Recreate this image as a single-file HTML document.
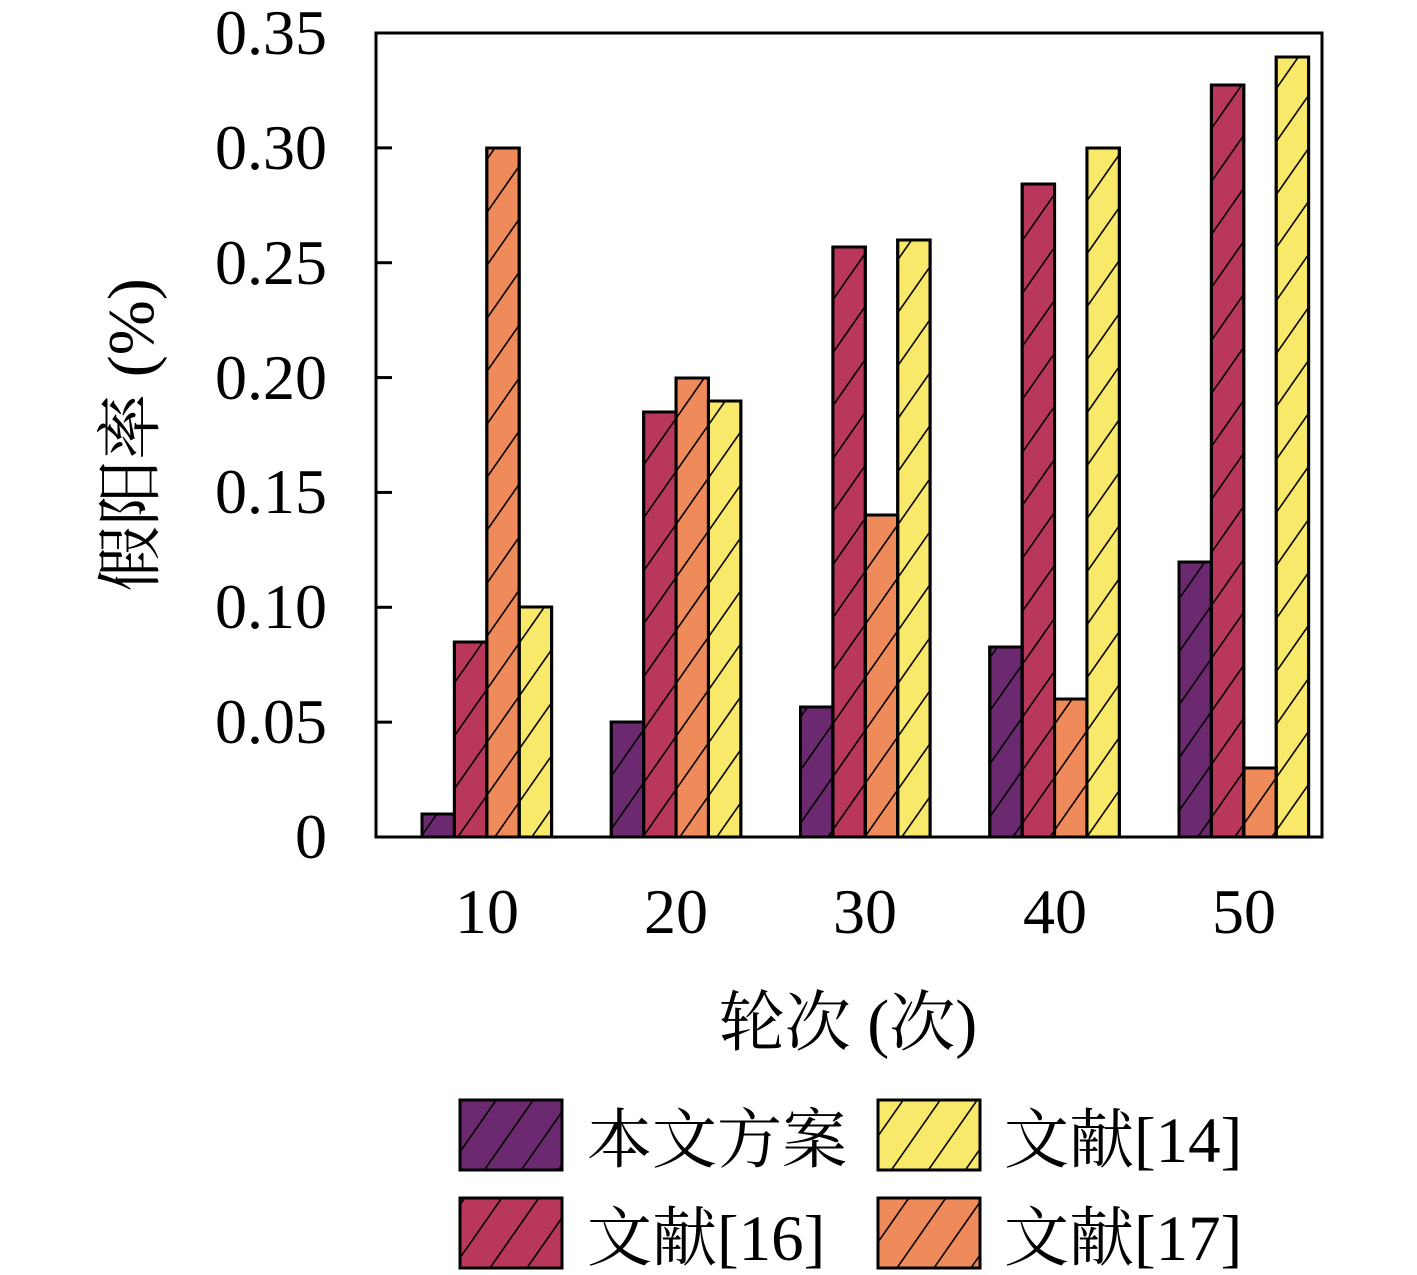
<!DOCTYPE html>
<html><head><meta charset="utf-8"><style>
html,body{margin:0;padding:0;background:#fff;}
svg{display:block;}
text{font-family:"Liberation Serif","Noto Serif CJK SC",serif;fill:#000;}
</style></head><body>
<svg width="1417" height="1275" viewBox="0 0 1417 1275" xmlns="http://www.w3.org/2000/svg">
<defs>
<pattern id="h" patternUnits="userSpaceOnUse" x="0" y="8.8" width="37" height="53">
<path d="M-3.7,58.3 L40.7,-5.3 M-3.7,5.3 L3.7,-5.3 M33.3,58.3 L40.7,47.7" stroke="#000" stroke-width="1.6" fill="none"/>
</pattern>
</defs>
<rect width="1417" height="1275" fill="#fff"/>

<g stroke="#000" stroke-width="3">
<!-- group 10 -->
<rect x="422" y="814" width="32.4" height="23" fill="#6b2a6f"/>
<rect x="454.4" y="642" width="32.4" height="195" fill="#b8375a"/>
<rect x="486.8" y="148" width="32.4" height="689" fill="#ef8a5a"/>
<rect x="519.2" y="607" width="32.4" height="230" fill="#f8e96b"/>
<!-- group 20 -->
<rect x="611.25" y="722" width="32.4" height="115" fill="#6b2a6f"/>
<rect x="643.65" y="412" width="32.4" height="425" fill="#b8375a"/>
<rect x="676.05" y="378" width="32.4" height="459" fill="#ef8a5a"/>
<rect x="708.45" y="401" width="32.4" height="436" fill="#f8e96b"/>
<!-- group 30 -->
<rect x="800.5" y="707" width="32.4" height="130" fill="#6b2a6f"/>
<rect x="832.9" y="247" width="32.4" height="590" fill="#b8375a"/>
<rect x="865.3" y="515" width="32.4" height="322" fill="#ef8a5a"/>
<rect x="897.7" y="240" width="32.4" height="597" fill="#f8e96b"/>
<!-- group 40 -->
<rect x="989.75" y="647" width="32.4" height="190" fill="#6b2a6f"/>
<rect x="1022.15" y="184" width="32.4" height="653" fill="#b8375a"/>
<rect x="1054.55" y="699" width="32.4" height="138" fill="#ef8a5a"/>
<rect x="1086.95" y="148" width="32.4" height="689" fill="#f8e96b"/>
<!-- group 50 -->
<rect x="1179" y="562" width="32.4" height="275" fill="#6b2a6f"/>
<rect x="1211.4" y="85" width="32.4" height="752" fill="#b8375a"/>
<rect x="1243.8" y="768" width="32.4" height="69" fill="#ef8a5a"/>
<rect x="1276.2" y="57" width="32.4" height="780" fill="#f8e96b"/>
</g>
<g stroke="#000" stroke-width="3" fill="url(#h)">
<rect x="422" y="814" width="32.4" height="23"/>
<rect x="454.4" y="642" width="32.4" height="195"/>
<rect x="486.8" y="148" width="32.4" height="689"/>
<rect x="519.2" y="607" width="32.4" height="230"/>
<rect x="611.25" y="722" width="32.4" height="115"/>
<rect x="643.65" y="412" width="32.4" height="425"/>
<rect x="676.05" y="378" width="32.4" height="459"/>
<rect x="708.45" y="401" width="32.4" height="436"/>
<rect x="800.5" y="707" width="32.4" height="130"/>
<rect x="832.9" y="247" width="32.4" height="590"/>
<rect x="865.3" y="515" width="32.4" height="322"/>
<rect x="897.7" y="240" width="32.4" height="597"/>
<rect x="989.75" y="647" width="32.4" height="190"/>
<rect x="1022.15" y="184" width="32.4" height="653"/>
<rect x="1054.55" y="699" width="32.4" height="138"/>
<rect x="1086.95" y="148" width="32.4" height="689"/>
<rect x="1179" y="562" width="32.4" height="275"/>
<rect x="1211.4" y="85" width="32.4" height="752"/>
<rect x="1243.8" y="768" width="32.4" height="69"/>
<rect x="1276.2" y="57" width="32.4" height="780"/>
</g>

<!-- axes frame -->
<rect x="376" y="33" width="946" height="804" fill="none" stroke="#000" stroke-width="3"/>
<!-- y ticks -->
<g stroke="#000" stroke-width="3">
<line x1="376" y1="837" x2="392" y2="837"/>
<line x1="376" y1="722.14" x2="392" y2="722.14"/>
<line x1="376" y1="607.29" x2="392" y2="607.29"/>
<line x1="376" y1="492.43" x2="392" y2="492.43"/>
<line x1="376" y1="377.57" x2="392" y2="377.57"/>
<line x1="376" y1="262.71" x2="392" y2="262.71"/>
<line x1="376" y1="147.86" x2="392" y2="147.86"/>
<line x1="376" y1="33" x2="392" y2="33"/>
</g>
<!-- y tick labels -->
<g font-size="64" text-anchor="end">
<text x="327" y="858">0</text>
<text x="327" y="743">0.05</text>
<text x="327" y="628">0.10</text>
<text x="327" y="513">0.15</text>
<text x="327" y="399">0.20</text>
<text x="327" y="284">0.25</text>
<text x="327" y="169">0.30</text>
<text x="327" y="54">0.35</text>
</g>
<!-- x tick labels -->
<g font-size="64" text-anchor="middle">
<text x="487" y="933">10</text>
<text x="676" y="933">20</text>
<text x="865" y="933">30</text>
<text x="1055" y="933">40</text>
<text x="1244" y="933">50</text>
</g>
<!-- axis labels -->
<text x="848" y="1045" font-size="66" text-anchor="middle">轮次 (次)</text>
<text transform="translate(153,435) rotate(-90)" font-size="66" text-anchor="middle">假阳率 (%)</text>

<!-- legend -->
<g stroke="#000" stroke-width="3">
<rect x="460" y="1100" width="102" height="70" fill="#6b2a6f"/>
<rect x="460" y="1198" width="102" height="70" fill="#b8375a"/>
<rect x="878" y="1100" width="102" height="70" fill="#f8e96b"/>
<rect x="878" y="1198" width="102" height="70" fill="#ef8a5a"/>
</g>
<g stroke="#000" stroke-width="3" fill="url(#h)">
<rect x="460" y="1100" width="102" height="70"/>
<rect x="460" y="1198" width="102" height="70"/>
<rect x="878" y="1100" width="102" height="70"/>
<rect x="878" y="1198" width="102" height="70"/>
</g>
<g font-size="65">
<text x="587" y="1162">本文方案</text>
<text x="587" y="1260">文献[16]</text>
<text x="1004" y="1162">文献[14]</text>
<text x="1004" y="1260">文献[17]</text>
</g>
</svg>
</body></html>
